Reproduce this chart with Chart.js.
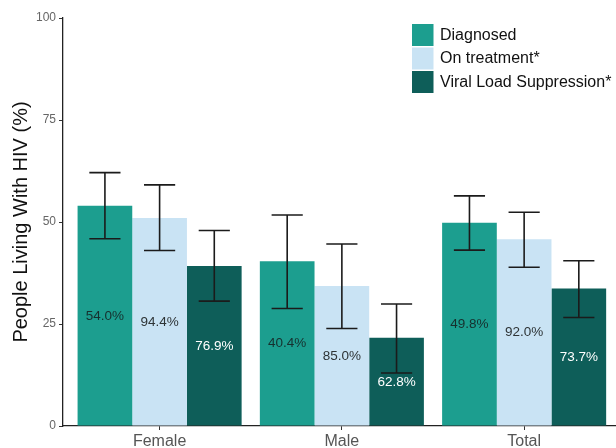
<!DOCTYPE html>
<html>
<head>
<meta charset="utf-8">
<script src="https://cdn.jsdelivr.net/npm/chart.js@4.4.1/dist/chart.umd.min.js"></script>
<style>
  html, body { margin: 0; padding: 0; background: #fff; overflow: hidden; }
  #wrap { width: 616px; height: 448px; }
</style>
</head>
<body>
<div id="wrap"><canvas id="chart" width="616" height="448"></canvas></div>
<script>
// HIV care cascade by sex
const categories = ['Female', 'Male', 'Total'];
const seriesNames = ['Diagnosed', 'On treatment*', 'Viral Load Suppression*'];

// Bar heights: share of all people living with HIV (%)
const diagnosed     = [54.0, 40.4, 49.8];
const onTreatment   = [51.0, 34.3, 45.8];
const viralSuppress = [39.2, 21.6, 33.7];

// 95% confidence limits
const diagnosedLow  = [45.9, 28.8, 43.1];
const diagnosedHigh = [62.1, 51.7, 56.4];
const treatLow      = [43.0, 23.9, 38.9];
const treatHigh     = [59.1, 44.6, 52.4];
const vlsLow        = [30.6, 13.0, 26.6];
const vlsHigh       = [47.9, 29.9, 40.5];

// Labels printed inside the bars (step-to-step cascade percentages)
const diagnosedLabels = ['54.0%', '40.4%', '49.8%'];
const treatLabels     = ['94.4%', '85.0%', '92.0%'];
const vlsLabels       = ['76.9%', '62.8%', '73.7%'];

const yTicks = [0, 25, 50, 75, 100];

const colors = ['#1c9e8f', '#c9e3f4', '#0e5e59'];
const labelColors = ['#16302e', '#2e3436', '#ffffff'];

const FONT = "'Liberation Sans', Arial, Helvetica, sans-serif";

function points(values) {
  return values.map((v, i) => ({ x: i + 1, y: v }));
}

const datasets = [
  { label: seriesNames[0], data: points(diagnosed), low: diagnosedLow, high: diagnosedHigh, text: diagnosedLabels },
  { label: seriesNames[1], data: points(onTreatment), low: treatLow, high: treatHigh, text: treatLabels },
  { label: seriesNames[2], data: points(viralSuppress), low: vlsLow, high: vlsHigh, text: vlsLabels }
].map((d, k) => Object.assign(d, {
  backgroundColor: colors[k],
  borderWidth: 0,
  categoryPercentage: 0.9,
  barPercentage: 1.0,
  labelColor: labelColors[k]
}));

// Value labels centred inside each bar, then error bars on top
const barDecorations = {
  id: 'barDecorations',
  afterDatasetsDraw(chart) {
    const ctx = chart.ctx;
    const y = chart.scales.y;
    chart.data.datasets.forEach((ds, di) => {
      const meta = chart.getDatasetMeta(di);
      meta.data.forEach((bar, i) => {
        const v = ds.data[i].y;
        ctx.save();
        ctx.font = '13.5px ' + FONT;
        ctx.fillStyle = ds.labelColor;
        ctx.textAlign = 'center';
        ctx.textBaseline = 'middle';
        ctx.fillText(ds.text[i], bar.x, y.getPixelForValue(v / 2));
        ctx.restore();
      });
    });
    chart.data.datasets.forEach((ds, di) => {
      const meta = chart.getDatasetMeta(di);
      meta.data.forEach((bar, i) => {
        const top = y.getPixelForValue(ds.high[i]);
        const bot = y.getPixelForValue(ds.low[i]);
        const cap = bar.width * 0.285;
        ctx.save();
        ctx.strokeStyle = '#1b1b1b';
        ctx.lineWidth = 1.6;
        ctx.beginPath();
        ctx.moveTo(bar.x, top); ctx.lineTo(bar.x, bot);
        ctx.moveTo(bar.x - cap, top); ctx.lineTo(bar.x + cap, top);
        ctx.moveTo(bar.x - cap, bot); ctx.lineTo(bar.x + cap, bot);
        ctx.stroke();
        ctx.restore();
      });
    });
  }
};

// Legend with square keys in the upper right of the plot
const boxLegend = {
  id: 'boxLegend',
  afterDraw(chart) {
    const ctx = chart.ctx;
    const x0 = 412, y0 = 24, box = 22, gap = 1.5;
    chart.data.datasets.forEach((ds, k) => {
      const yy = y0 + k * (box + gap);
      ctx.save();
      ctx.fillStyle = ds.backgroundColor;
      ctx.fillRect(x0, yy, 21.5, box);
      ctx.font = '16px ' + FONT;
      ctx.fillStyle = '#111';
      ctx.textAlign = 'left';
      ctx.textBaseline = 'middle';
      ctx.fillText(ds.label, x0 + 28, yy + box / 2 + 0.5);
      ctx.restore();
    });
  }
};

new Chart(document.getElementById('chart'), {
  type: 'bar',
  data: { datasets },
  options: {
    responsive: false,
    animation: false,
    devicePixelRatio: 1,
    layout: { padding: { top: 18, right: 0, bottom: 0, left: 0 } },
    plugins: {
      legend: { display: false },
      tooltip: { enabled: false }
    },
    scales: {
      x: {
        type: 'linear',
        min: 0.47,
        max: 3.504,
        offset: false,
        afterBuildTicks(scale) {
          scale.ticks = categories.map((_, i) => ({ value: i + 1 }));
        },
        afterFit(scale) { scale.height = 22; },
        ticks: {
          autoSkip: false,
          maxRotation: 0,
          padding: 2,
          color: '#555',
          font: { family: FONT, size: 16 },
          callback: (v) => categories[v - 1]
        },
        grid: { offset: false, drawOnChartArea: false, drawTicks: true, tickLength: 4, color: '#333', lineWidth: 1 },
        border: { display: true, color: '#222', width: 1.3 }
      },
      y: {
        min: 0,
        max: 100,
        afterBuildTicks(scale) {
          scale.ticks = yTicks.map(v => ({ value: v }));
        },
        afterFit(scale) { scale.width = 63; },
        ticks: {
          padding: 3,
          color: '#666',
          font: { family: FONT, size: 12 }
        },
        grid: { drawOnChartArea: false, drawTicks: true, tickLength: 4, color: '#333', lineWidth: 1 },
        border: { display: true, color: '#222', width: 1.3 },
        title: {
          display: true,
          text: 'People Living With HIV (%)',
          color: '#111',
          font: { family: FONT, size: 20 },
          padding: { top: 9, bottom: 0 }
        }
      }
    }
  },
  plugins: [barDecorations, boxLegend]
});
</script>
</body>
</html>
